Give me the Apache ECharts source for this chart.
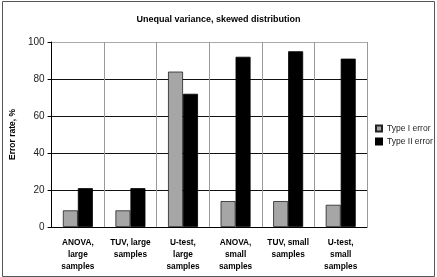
<!DOCTYPE html>
<html>
<head>
<meta charset="utf-8">
<script src="https://cdn.jsdelivr.net/npm/echarts@6/dist/echarts.min.js"></script>
<style>html,body{margin:0;padding:0;background:#fff}#c{width:437px;height:277px}</style>
</head>
<body>
<div id="c"></div>
<script>
const categories = ['ANOVA,\nlarge\nsamples', 'TUV, large\nsamples', 'U-test,\nlarge\nsamples', 'ANOVA,\nsmall\nsamples', 'TUV, small\nsamples', 'U-test,\nsmall\nsamples'];
const typeI = [9, 9, 84, 14, 14, 12];
const typeII = [21, 21, 72, 92, 95, 91];
const yTicks = [0, 20, 40, 60, 80, 100];

const chart = echarts.init(document.getElementById('c'), null, {renderer: 'canvas'});
const F = 'Liberation Sans, Arial, sans-serif';
chart.setOption({
  animation: false,
  backgroundColor: '#fff',
  title: {
    text: 'Unequal variance, skewed distribution',
    left: 'center', top: 10,
    textStyle: {fontFamily: F, fontSize: 9, fontWeight: 'bold', color: '#000'}
  },
  graphic: [{
    type: 'rect', shape: {x: 2.5, y: 1.5, width: 432, height: 275},
    style: {fill: 'none', stroke: '#555', lineWidth: 1}, silent: true
  }],
  legend: {
    orient: 'vertical', left: 375, top: 124, padding: 0,
    icon: 'rect', itemWidth: 6, itemHeight: 6, itemGap: 4,
    textStyle: {fontFamily: F, fontSize: 8.5, color: '#222'},
    data: ['Type I error', 'Type II error']
  },
  grid: {left: 49, right: 70, top: 42, bottom: 50},
  xAxis: {
    type: 'category', data: categories,
    axisLine: {lineStyle: {color: '#000', width: 1}},
    axisTick: {show: false},
    splitLine: {show: true, lineStyle: {color: '#999', width: 1}},
    axisLabel: {fontFamily: F, fontSize: 8.3, fontWeight: 'bold', color: '#000', lineHeight: 12, margin: 10, interval: 0}
  },
  yAxis: {
    type: 'value', min: 0, max: 100, interval: 20,
    name: 'Error rate, %', nameLocation: 'middle', nameGap: 18, nameRotate: 90,
    nameTextStyle: {fontFamily: F, fontSize: 8.5, fontWeight: 'bold', color: '#000'},
    axisLine: {show: true, lineStyle: {color: '#000', width: 1}},
    axisTick: {show: true, length: 4, lineStyle: {color: '#000'}},
    axisLabel: {fontFamily: F, fontSize: 10, color: '#222', margin: 7,
      formatter: v => yTicks.includes(v) ? String(v) : ''},
    splitLine: {show: true, lineStyle: {color: ['#000', '#111', '#111', '#111', '#111', '#aaa'], width: 1}}
  },
  series: [
    {name: 'Type I error', type: 'bar', data: typeI, barGap: '0%', barCategoryGap: '43%',
      itemStyle: {color: '#a6a6a6', borderColor: '#222', borderWidth: 0.8}},
    {name: 'Type II error', type: 'bar', data: typeII,
      itemStyle: {color: '#000', borderColor: '#000', borderWidth: 0.8}}
  ]
});
</script>
</body>
</html>
